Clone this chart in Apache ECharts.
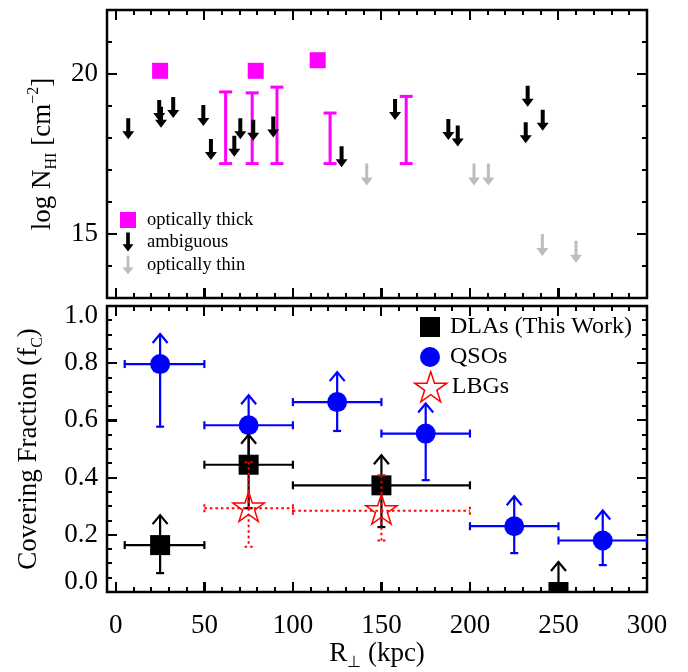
<!DOCTYPE html>
<html><head><meta charset="utf-8">
<script src="https://cdn.jsdelivr.net/npm/echarts@6/dist/echarts.min.js"></script>
<style>html,body{margin:0;padding:0;background:#fff}#c{width:688px;height:672px}</style>
</head><body><div id="c"></div>
<script>
function showErr(msg) {
  const d = document.createElement('div');
  d.style.cssText = 'position:absolute;left:2px;top:2px;font:9px monospace;color:#c00;max-width:680px;white-space:pre-wrap';
  d.textContent = String(msg).slice(0, 400);
  document.body.appendChild(d);
}
window.addEventListener('error', e => showErr('ERR ' + e.message));

// ---------------- data ----------------
const xTickLabels = [0, 50, 100, 150, 200, 250, 300];
const xMinorTicks = [10,20,30,40,60,70,80,90,110,120,130,140,160,170,180,190,210,220,230,240,260,270,280,290];
const nhiTickLabels = [15, 20];
const nhiMinorTicks = [14, 16, 17, 18, 19, 21];
const fcTickLabels = [0.0, 0.2, 0.4, 0.6, 0.8, 1.0];
const fcMinorTicks = [0.05,0.1,0.15,0.25,0.3,0.35,0.45,0.5,0.55,0.65,0.7,0.75,0.85,0.9,0.95];

// top panel: log N_HI vs R
const thickR = [25, 79, 114];
const thickN = [20.1, 20.1, 20.43];
const rangeR  = [62, 77, 91, 121, 164];
const rangeLo = [17.2, 17.2, 17.2, 17.2, 17.2];
const rangeHi = [19.44, 19.41, 19.59, 18.78, 19.3];
const ambigR = [7, 24.5, 25.5, 32.4, 49.4, 53.7, 66.9, 70.3, 77.6, 88.9, 127.5, 157.7, 187.8, 193.1, 232.6, 231.5, 241.1];
const ambigN = [18.62, 19.19, 18.98, 19.28, 19.03, 17.97, 18.07, 18.62, 18.57, 18.67, 17.74, 19.22, 18.59, 18.39, 19.63, 18.49, 18.88];
const thinR = [141.7, 202.3, 210.4, 240.9, 259.9];
const thinN = [17.2, 17.2, 17.2, 15.0, 14.79];

// bottom panel: covering fraction vs R
const dlaR    = [25, 75, 150, 250];
const dlaFc   = [0.164, 0.445, 0.373, 0.0];
const dlaRlo  = [5, 50, 100, 200];
const dlaRhi  = [50, 100, 200, 300];
const dlaFcLo = [0.066, 0.293, 0.227, 0.0];

const qsoR    = [25, 75, 125, 175, 225, 275];
const qsoFc   = [0.797, 0.583, 0.664, 0.554, 0.230, 0.180];
const qsoRlo  = [5, 50, 100, 150, 200, 250];
const qsoRhi  = [50, 100, 150, 200, 250, 300];
const qsoFcLo = [0.578, 0.46, 0.563, 0.391, 0.136, 0.094];

const lbgR    = [75, 150];
const lbgFc   = [0.293, 0.284];
const lbgRlo  = [50, 100];
const lbgRhi  = [100, 200];
const lbgFcLo = [0.158, 0.18];
const lbgFcHi = [0.454, 0.408];

// ---------------- styling ----------------
const FONT = '"Liberation Serif","Times New Roman",serif';
const TICKFS = 27;
const X_MIN = -5, X_MAX = 300;
const N_MIN = 13, N_MAX = 22;
const F_MIN = 0, F_MAX = 1;

function xAx(grid, labels) {
  return {
    type: 'value', gridIndex: grid, position: 'bottom', min: X_MIN, max: X_MAX,
    axisLine: {show: false, onZero: false}, splitLine: {show: false},
    axisTick: {show: true, inside: true, length: 10, customValues: xTickLabels, lineStyle: {color: '#000', width: 2}},
    axisLabel: labels ? {show: true, customValues: labels, margin: 20, color: '#000',
      fontFamily: FONT, fontSize: TICKFS, formatter: v => String(v)} : {show: false}
  };
}
function yAx(grid, min, max, labels, fmt) {
  return {
    type: 'value', gridIndex: grid, position: 'left', min: min, max: max,
    axisLine: {show: false, onZero: false}, splitLine: {show: false},
    axisTick: {show: true, inside: true, length: 10, customValues: labels, lineStyle: {color: '#000', width: 2}},
    axisLabel: {show: true, customValues: labels, margin: 9, color: '#000',
      fontFamily: FONT, fontSize: TICKFS, formatter: fmt,
      rich: {t: {padding: [20, 0, 0, 0], fontFamily: FONT, fontSize: TICKFS}, b: {padding: [0, 0, 20, 0], fontFamily: FONT, fontSize: TICKFS}}
    }
  };
}
const fcFmt = v => {
  const s = v.toFixed(1);
  if (Math.abs(v - 1) < 1e-6) return '{t|' + s + '}';
  if (Math.abs(v) < 1e-6) return '{b|' + s + '}';
  return s;
};
const xAxes = [xAx(0, null), xAx(1, xTickLabels)];
const yAxes = [yAx(0, N_MIN, N_MAX, nhiTickLabels, v => String(v)), yAx(1, F_MIN, F_MAX, fcTickLabels, fcFmt)];

const nameRich = {
  n: {fontFamily: FONT, fontSize: 27, lineHeight: 34, color: '#000', verticalAlign: 'middle'},
  s: {fontFamily: FONT, fontSize: 16, lineHeight: 16, color: '#000', verticalAlign: 'bottom'},
  p: {fontFamily: FONT, fontSize: 16, lineHeight: 16, color: '#000', verticalAlign: 'top'}
};
Object.assign(yAxes[0], {name: '{n|log N}{s|HI}{n| [cm}{p|−2}{n|]}', nameLocation: 'middle', nameRotate: 90, nameGap: 38, nameTextStyle: {rich: nameRich}});
Object.assign(yAxes[1], {name: '{n|Covering Fraction (f}{s|C}{n|)}', nameLocation: 'middle', nameRotate: 90, nameGap: 61, nameTextStyle: {rich: nameRich}});
Object.assign(xAxes[1], {name: '{n|R}{s|⊥}{n| (kpc)}', nameLocation: 'middle', nameGap: 45, nameTextStyle: {rich: nameRich}});

const ARROW_BLACK = 'path://M4,0H8V13H12L6,21L0,13H4Z';
const ARROW_GRAY = 'path://M4.5,0H7.5V14H12L6,22L0,14H4.5Z';
const SQUARE = 'path://M0,0H10V10H0Z';
const STAR = 'path://M50,0L61.23,34.55L97.55,34.55L68.17,55.9L79.39,90.45L50,69.1L20.61,90.45L31.83,55.9L2.45,34.55L38.77,34.55Z';

function starPts(cx, cy, R) {
  const r = R * 0.382, pts = [];
  for (let i = 0; i < 10; i++) {
    const a = (-90 + i * 36) * Math.PI / 180;
    const rr = i % 2 === 0 ? R : r;
    pts.push([cx + rr * Math.cos(a), cy + rr * Math.sin(a)]);
  }
  return pts;
}

function errRender(color, dashed, lw, arrow, marker) {
  return function (params, api) {
    const x = api.value(0), y = api.value(1);
    const c = api.coord([x, y]);
    const pl = api.coord([api.value(2), y]);
    const ph = api.coord([api.value(3), y]);
    const plo = api.coord([x, api.value(4)]);
    const phi = api.coord([x, api.value(5)]);
    const st = () => {
      const s = {stroke: color, lineWidth: lw, fill: null};
      if (dashed) s.lineDash = [2.5, 3];
      return s;
    };
    const L = (x1, y1, x2, y2) => ({type: 'line', shape: {x1, y1, x2, y2}, style: st()});
    const cap = 4;
    const k = [];
    k.push(L(pl[0], c[1], ph[0], c[1]));
    k.push(L(pl[0], c[1] - cap, pl[0], c[1] + cap));
    k.push(L(ph[0], c[1] - cap, ph[0], c[1] + cap));
    if (plo[1] - c[1] > 0.5) {
      k.push(L(c[0], c[1], c[0], plo[1]));
      k.push(L(c[0] - cap, plo[1], c[0] + cap, plo[1]));
    }
    if (c[1] - phi[1] > 0.5) {
      k.push(L(c[0], c[1], c[0], phi[1]));
      k.push(L(c[0] - cap, phi[1], c[0] + cap, phi[1]));
    }
    if (arrow) {
      const t = c[1] - 30;
      k.push(L(c[0], c[1], c[0], t));
      k.push({type: 'polyline', shape: {points: [[c[0] - 7.5, t + 9], [c[0], t], [c[0] + 7.5, t + 9]]}, style: st()});
    }
    k.push(marker(c));
    return {type: 'group', children: k};
  };
}

const mkSquare = c => ({type: 'rect', shape: {x: c[0] - 10, y: c[1] - 10, width: 20, height: 20}, style: {fill: '#000'}});
const mkCircle = c => ({type: 'circle', shape: {cx: c[0], cy: c[1], r: 10}, style: {fill: '#0000ff'}});
const mkStar = c => ({type: 'polygon', shape: {points: starPts(c[0], c[1], 16.5)}, style: {fill: 'none', stroke: '#ff0000', lineWidth: 1.5}});

const series = [
  {
    type: 'custom', name: 'NHI range', xAxisIndex: 0, yAxisIndex: 0,
    data: rangeR.map((r, i) => [r, rangeLo[i], rangeHi[i]]),
    encode: {x: 0, y: [1, 2]},
    renderItem: function (params, api) {
      const x = api.value(0);
      const a = api.coord([x, api.value(1)]), b = api.coord([x, api.value(2)]);
      const w = 6.5, s = () => ({stroke: '#ff00ff', lineWidth: 3});
      return {type: 'group', children: [
        {type: 'line', shape: {x1: a[0], y1: a[1], x2: b[0], y2: b[1]}, style: s()},
        {type: 'line', shape: {x1: a[0] - w, y1: a[1], x2: a[0] + w, y2: a[1]}, style: s()},
        {type: 'line', shape: {x1: b[0] - w, y1: b[1], x2: b[0] + w, y2: b[1]}, style: s()}
      ]};
    }
  },
  {
    type: 'scatter', name: 'optically thick', xAxisIndex: 0, yAxisIndex: 0,
    data: thickR.map((r, i) => [r, thickN[i]]),
    symbol: 'rect', symbolSize: 16, itemStyle: {color: '#ff00ff', opacity: 1}
  },
  {
    type: 'scatter', name: 'ambiguous', xAxisIndex: 0, yAxisIndex: 0,
    data: ambigR.map((r, i) => [r, ambigN[i]]),
    symbol: ARROW_BLACK, symbolSize: [12, 21], symbolOffset: [0, 10.5], itemStyle: {color: '#000', opacity: 1}
  },
  {
    type: 'scatter', name: 'optically thin', xAxisIndex: 0, yAxisIndex: 0,
    data: thinR.map((r, i) => [r, thinN[i]]),
    symbol: ARROW_GRAY, symbolSize: [12, 22], symbolOffset: [0, 11], itemStyle: {color: '#bdbdbd', opacity: 1}
  },
  {
    type: 'custom', name: 'QSOs', xAxisIndex: 1, yAxisIndex: 1, clip: true,
    data: qsoR.map((r, i) => [r, qsoFc[i], qsoRlo[i], qsoRhi[i], qsoFcLo[i], qsoFc[i]]),
    encode: {x: [0, 2, 3], y: [1, 4, 5]},
    itemStyle: {color: '#0000ff'},
    renderItem: errRender('#0000ff', false, 2.2, true, mkCircle)
  },
  {
    type: 'custom', name: 'DLAs (This Work)', xAxisIndex: 1, yAxisIndex: 1, clip: true,
    data: dlaR.map((r, i) => [r, dlaFc[i], dlaRlo[i], dlaRhi[i], dlaFcLo[i], dlaFc[i]]),
    encode: {x: [0, 2, 3], y: [1, 4, 5]},
    itemStyle: {color: '#000'},
    renderItem: errRender('#000', false, 2.2, true, mkSquare)
  },
  {
    type: 'custom', name: 'LBGs', xAxisIndex: 1, yAxisIndex: 1, clip: true,
    data: lbgR.map((r, i) => [r, lbgFc[i], lbgRlo[i], lbgRhi[i], lbgFcLo[i], lbgFcHi[i]]),
    encode: {x: [0, 2, 3], y: [1, 4, 5]},
    itemStyle: {color: '#ff0000'},
    renderItem: errRender('#ff0000', true, 2, false, mkStar)
  }
];

// legend: icon box sized to the icon, centre cx, row centre cy, text starting at tx
function leg(name, icon, cx, cy, w, h, tx, fs, lh, itemStyle) {
  const d = {name: name, icon: icon};
  if (itemStyle) d.itemStyle = itemStyle;
  const left = cx - w / 2;
  const rowH = Math.max(h, lh);
  return {
    show: true, selectedMode: false, orient: 'vertical', left: left, top: cy - rowH / 2, padding: 0,
    itemWidth: w, itemHeight: h, symbolKeepAspect: false,
    textStyle: {fontFamily: FONT, fontSize: fs, lineHeight: lh, color: '#000',
      padding: [0, 0, 0, Math.max(0, tx - (left + w + 5))]},
    data: [d]
  };
}
const legends = [
  leg('optically thick', SQUARE, 128, 220, 16, 16, 147, 18.5, 20, {color: '#ff00ff'}),
  leg('ambiguous', ARROW_BLACK, 128, 242, 11, 19, 147, 18.5, 20, {color: '#000'}),
  leg('optically thin', ARROW_GRAY, 128, 265, 11, 19, 147, 18.5, 20, {color: '#bdbdbd'}),
  leg('DLAs (This Work)', SQUARE, 430, 327, 20, 20, 450, 24, 28, {color: '#000'}),
  leg('QSOs', 'circle', 430, 357, 20, 20, 450, 24, 28, {color: '#0000ff'}),
  leg('LBGs', STAR, 430, 386, 32, 30, 450, 24, 28, {color: 'rgba(255,255,255,0)', borderColor: '#ff0000', borderWidth: 1.5})
];

const option = {
  animation: false,
  grid: [
    {left: 107, top: 10, width: 540, height: 288, show: true, borderColor: '#000', borderWidth: 2.5},
    {left: 107, top: 306, width: 540, height: 289, show: true, borderColor: '#000', borderWidth: 2.5}
  ],
  xAxis: xAxes,
  yAxis: yAxes,
  legend: legends,
  series: series
};
const chart = echarts.init(document.getElementById('c'), null, {renderer: 'canvas', width: 688, height: 672});
try { chart.setOption(option); } catch (e) { showErr('setOption ' + e.message); }

// inward frame ticks on all four sides of both panels, positioned through the axes' scales
function frameTicks(gi, xMajor, xMinor, yMajor, yMinor, x0, x1, y0, y1) {
  const finder = {xAxisIndex: gi, yAxisIndex: gi};
  const els = [];
  const st = {stroke: '#000', lineWidth: 2};
  const pLo = chart.convertToPixel(finder, [x0, y0]);
  const pHi = chart.convertToPixel(finder, [x1, y1]);
  const left = pLo[0], right = pHi[0], bottom = pLo[1], top = pHi[1];
  const addX = (v, len) => {
    const x = Math.round(chart.convertToPixel(finder, [v, y0])[0]);
    els.push({type: 'line', silent: true, z: 100, shape: {x1: x, y1: bottom, x2: x, y2: bottom - len}, style: st});
    els.push({type: 'line', silent: true, z: 100, shape: {x1: x, y1: top, x2: x, y2: top + len}, style: st});
  };
  const addY = (v, len) => {
    const y = Math.round(chart.convertToPixel(finder, [x0, v])[1]);
    els.push({type: 'line', silent: true, z: 100, shape: {x1: left, y1: y, x2: left + len, y2: y}, style: st});
    els.push({type: 'line', silent: true, z: 100, shape: {x1: right, y1: y, x2: right - len, y2: y}, style: st});
  };
  xMajor.forEach(v => addX(v, 10));
  xMinor.forEach(v => addX(v, 5));
  yMajor.forEach(v => addY(v, 10));
  yMinor.forEach(v => addY(v, 5));
  return els;
}
try {
  const g = frameTicks(0, xTickLabels, xMinorTicks, nhiTickLabels, nhiMinorTicks, X_MIN, X_MAX, N_MIN, N_MAX)
    .concat(frameTicks(1, xTickLabels, xMinorTicks, fcTickLabels, fcMinorTicks, X_MIN, X_MAX, F_MIN, F_MAX));
  chart.setOption({graphic: {elements: g}});
} catch (e) { showErr('ticks ' + e.message); }
</script>
</body></html>
